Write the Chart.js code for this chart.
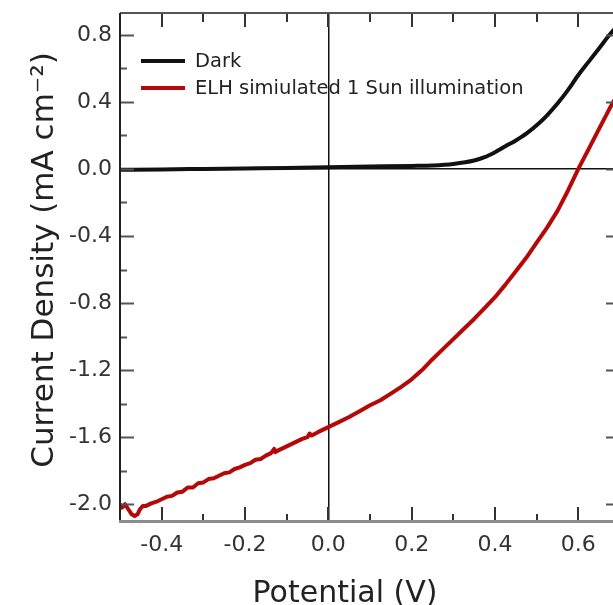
<!DOCTYPE html>
<html>
<head>
<meta charset="utf-8">
<script src="https://cdn.jsdelivr.net/npm/chart.js@4.4.1/dist/chart.umd.min.js"></script>
<style>
html, body { margin: 0; padding: 0; background: #fff; overflow: hidden; }
#wrap { width: 613px; height: 605px; overflow: hidden; }
canvas { display: block; }
</style>
</head>
<body>
<div id="wrap"><canvas id="chart" width="632" height="605"></canvas></div>
<script>
// dark scan
const darkPotential = [-0.5, -0.4, -0.3, -0.2, -0.1, 0.0, 0.1, 0.2, 0.25, 0.3, 0.35, 0.375, 0.4, 0.425, 0.45, 0.475, 0.5, 0.525, 0.55, 0.575, 0.6, 0.625, 0.65, 0.675, 0.7];
const darkCurrent = [-0.005, -0.003, 0.0, 0.003, 0.006, 0.01, 0.014, 0.018, 0.021, 0.03, 0.05, 0.07, 0.10, 0.135, 0.17, 0.21, 0.26, 0.32, 0.39, 0.47, 0.56, 0.64, 0.72, 0.80, 0.87];

// 1 sun illumination scan (noisy at negative bias)
const lightPotential = [-0.5, -0.495, -0.488, -0.48, -0.472, -0.465, -0.458, -0.452, -0.445, -0.4375, -0.425, -0.4125, -0.4, -0.3875, -0.375, -0.3625, -0.35, -0.3375, -0.325, -0.3125, -0.3, -0.2875, -0.275, -0.2625, -0.25, -0.2375, -0.225, -0.2125, -0.2, -0.1875, -0.175, -0.1625, -0.15, -0.1375, -0.13, -0.1275, -0.125, -0.1125, -0.1, -0.0875, -0.075, -0.0625, -0.05, -0.045, -0.04, -0.025, -0.0125, 0.0, 0.025, 0.05, 0.075, 0.1, 0.125, 0.15, 0.175, 0.2, 0.225, 0.25, 0.275, 0.3, 0.325, 0.35, 0.375, 0.4, 0.425, 0.45, 0.475, 0.5, 0.525, 0.55, 0.575, 0.6, 0.625, 0.65, 0.675, 0.7];
const lightCurrent = [-2.0, -2.02, -2.0, -2.03, -2.06, -2.07, -2.06, -2.03, -2.01, -2.01, -1.995, -1.985, -1.97, -1.955, -1.95, -1.93, -1.925, -1.9, -1.9, -1.875, -1.87, -1.85, -1.845, -1.83, -1.815, -1.81, -1.79, -1.78, -1.765, -1.755, -1.735, -1.73, -1.71, -1.695, -1.67, -1.69, -1.685, -1.67, -1.655, -1.64, -1.625, -1.61, -1.6, -1.578, -1.59, -1.57, -1.555, -1.54, -1.51, -1.48, -1.445, -1.41, -1.38, -1.34, -1.3, -1.255, -1.2, -1.135, -1.075, -1.015, -0.955, -0.895, -0.83, -0.765, -0.69, -0.61, -0.53, -0.44, -0.35, -0.25, -0.13, 0.0, 0.12, 0.24, 0.36, 0.47];

const seriesLabels = ['Dark', 'ELH simiulated 1 Sun illumination'];
const xTicks = [-0.4, -0.2, 0.0, 0.2, 0.4, 0.6];
const xMinorTicks = [-0.5, -0.3, -0.1, 0.1, 0.3, 0.5, 0.7];
const yTicks = [-2.0, -1.6, -1.2, -0.8, -0.4, 0.0, 0.4, 0.8];
const yMinorTicks = [-1.8, -1.4, -1.0, -0.6, -0.2, 0.2, 0.6];
const xTitle = 'Potential (V)';
const yTitle = 'Current Density (mA cm\u207B\u00B2)';

const FONT = '"DejaVu Sans", Verdana, sans-serif';

function toPoints(xs, ys) {
    return xs.map((x, i) => ({ x: x, y: ys[i] }));
}

// frame, inward ticks, legend and axis titles
const decor = {
    id: 'decor',
    afterDatasetsDraw(chart) {
        const ctx = chart.ctx;
        const a = chart.chartArea;
        const xs = chart.scales.x;
        const ys = chart.scales.y;
        ctx.save();

        // ticks
        const tick = (color, w, fn) => {
            ctx.strokeStyle = color;
            ctx.lineWidth = w;
            ctx.beginPath();
            fn();
            ctx.stroke();
        };
        tick('#555', 2, () => {
            yTicks.forEach(v => {
                const p = Math.round(ys.getPixelForValue(v)) + 0.5;
                ctx.moveTo(a.left, p); ctx.lineTo(a.left + 14, p);
                ctx.moveTo(a.right, p); ctx.lineTo(a.right - 14, p);
            });
            yMinorTicks.forEach(v => {
                const p = Math.round(ys.getPixelForValue(v)) + 0.5;
                ctx.moveTo(a.left, p); ctx.lineTo(a.left + 7, p);
                ctx.moveTo(a.right, p); ctx.lineTo(a.right - 7, p);
            });
        });
        tick('#333', 2, () => {
            xTicks.forEach(v => {
                const p = Math.round(xs.getPixelForValue(v));
                ctx.moveTo(p, a.bottom); ctx.lineTo(p, a.bottom - 14);
                ctx.moveTo(p, a.top); ctx.lineTo(p, a.top + 14);
            });
            xMinorTicks.forEach(v => {
                const p = Math.round(xs.getPixelForValue(v));
                ctx.moveTo(p, a.bottom); ctx.lineTo(p, a.bottom - 7);
                ctx.moveTo(p, a.top); ctx.lineTo(p, a.top + 9);
            });
        });

        // frame
        ctx.lineWidth = 2;
        ctx.strokeStyle = '#555';
        ctx.beginPath();
        ctx.moveTo(a.left, a.top); ctx.lineTo(a.right, a.top); ctx.lineTo(a.right, a.bottom);
        ctx.stroke();
        ctx.strokeStyle = '#222';
        ctx.beginPath();
        ctx.moveTo(a.left, a.top); ctx.lineTo(a.left, a.bottom);
        ctx.stroke();
        ctx.lineWidth = 3;
        ctx.strokeStyle = '#8c8c8c';
        ctx.beginPath();
        ctx.moveTo(a.left - 1, a.bottom + 0.5); ctx.lineTo(a.right, a.bottom + 0.5);
        ctx.stroke();

        // legend
        ctx.font = '19.5px ' + FONT;
        ctx.textBaseline = 'middle';
        ctx.textAlign = 'left';
        chart.data.datasets.forEach((ds, i) => {
            const y = a.top + 48 + i * 27;
            ctx.strokeStyle = ds.borderColor;
            ctx.lineWidth = 4;
            ctx.beginPath();
            ctx.moveTo(a.left + 21, y); ctx.lineTo(a.left + 65, y);
            ctx.stroke();
            ctx.fillStyle = '#222';
            ctx.fillText(ds.label, a.left + 75, y + 1);
        });

        // axis titles
        ctx.fillStyle = '#222';
        ctx.textAlign = 'center';
        ctx.textBaseline = 'alphabetic';
        ctx.font = '30px ' + FONT;
        ctx.fillText(xTitle, a.left + 225, 602);
        ctx.save();
        ctx.translate(53, a.top + 247);
        ctx.rotate(-Math.PI / 2);
        ctx.font = '31px ' + FONT;
        ctx.fillText(yTitle, 0, 0);
        ctx.restore();

        ctx.restore();
    }
};

const zeroLine = (c) => (c.tick && c.tick.value === 0 ? '#111' : 'rgba(0,0,0,0)');

new Chart(document.getElementById('chart'), {
    type: 'line',
    data: {
        datasets: [
            {
                label: seriesLabels[0],
                data: toPoints(darkPotential, darkCurrent),
                borderColor: '#111',
                borderWidth: 4,
                pointRadius: 0,
                cubicInterpolationMode: 'monotone',
            },
            {
                label: seriesLabels[1],
                data: toPoints(lightPotential, lightCurrent),
                borderColor: '#b50808',
                borderWidth: 4,
                borderJoinStyle: 'round',
                pointRadius: 0,
                tension: 0,
            },
        ],
    },
    options: {
        responsive: false,
        animation: false,
        events: [],
        layout: { padding: { top: 13, right: 12, left: 0, bottom: 0 } },
        plugins: {
            legend: { display: false },
            tooltip: { enabled: false },
        },
        scales: {
            x: {
                type: 'linear',
                min: -0.5,
                max: 0.7,
                afterBuildTicks: (s) => { s.ticks = xTicks.map(v => ({ value: v })); },
                afterFit: (s) => { s.height = 84; s.paddingLeft = 0; s.paddingRight = 0; },
                grid: { color: zeroLine, lineWidth: 1.5, drawTicks: false },
                border: { display: false },
                ticks: {
                    padding: 11,
                    color: '#333',
                    font: { family: FONT, size: 22 },
                    callback: (v) => Number(v).toFixed(1),
                },
            },
            y: {
                type: 'linear',
                min: -2.1,
                max: 0.93,
                afterBuildTicks: (s) => { s.ticks = yTicks.map(v => ({ value: v })); },
                afterFit: (s) => { s.width = 120; s.paddingTop = 0; s.paddingBottom = 0; },
                grid: { color: zeroLine, lineWidth: 1.5, drawTicks: false },
                border: { display: false },
                ticks: {
                    padding: 8,
                    color: '#333',
                    font: { family: FONT, size: 22 },
                    callback: (v) => Number(v).toFixed(1),
                },
            },
        },
    },
    plugins: [decor],
});
</script>
</body>
</html>
